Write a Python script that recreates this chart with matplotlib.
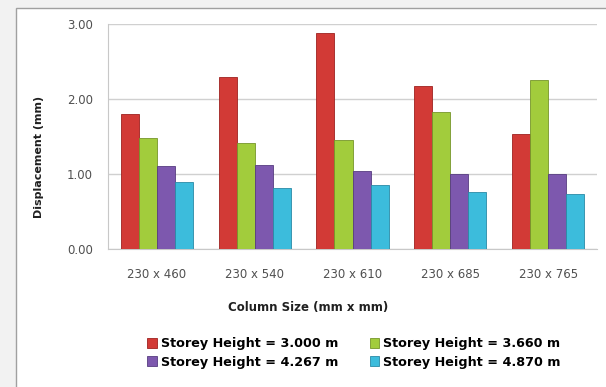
import matplotlib.pyplot as plt
from matplotlib.patches import Rectangle
import numpy as np

sizes = ['230 x 460', '230 x 540', '230 x 610', '230 x 685', '230 x 765']
h_3000 = [1.80, 2.30, 2.88, 2.17, 1.54]
h_3660 = [1.48, 1.41, 1.46, 1.83, 2.25]
h_4267 = [1.11, 1.12, 1.04, 1.00, 1.00]
h_4870 = [0.90, 0.81, 0.85, 0.76, 0.73]
labels = ['Storey Height = 3.000 m', 'Storey Height = 3.660 m',
          'Storey Height = 4.267 m', 'Storey Height = 4.870 m']

colors = ['#d23a36', '#a2cc3c', '#7d58ae', '#3cbcdc']
edges = ['#9e2220', '#76962a', '#573c80', '#2a8aa6']

plt.rcParams['font.family'] = ['DejaVu Sans']

fig = plt.figure(figsize=(6.06, 3.87), dpi=100)
fig.patch.set_facecolor('#f2f2f2')
# chart frame
frame = Rectangle((16 / 606, -0.05), 0.99, 1 - 8 / 387 + 0.05,
                  transform=fig.transFigure, facecolor='white',
                  edgecolor='#a0a0a0', lw=1.0, zorder=-10)
fig.add_artist(frame)

ax = fig.add_axes([108 / 606, 1 - 249 / 387, (597 - 108) / 606, 225 / 387])
ax.set_zorder(5)
ax.set_facecolor('white')

x = np.arange(len(sizes))
w = 0.185
series = [h_3000, h_3660, h_4267, h_4870]
bars = []
for i, vals in enumerate(series):
    b = ax.bar(x + (i - 1.5) * w, vals, w, color=colors[i], edgecolor=edges[i],
               linewidth=0.6, label=labels[i], zorder=3)
    bars.append(b)

ax.set_xlim(-0.5, len(sizes) - 0.5)
ax.set_ylim(0, 3)
ax.set_yticks([0, 1, 2, 3])
ax.set_yticklabels(['%.2f' % v for v in [0, 1, 2, 3]], fontsize=8.5, color='#505050')
ax.set_xticks(x)
ax.set_xticklabels(sizes, fontsize=8.5, color='#505050')
ax.tick_params(axis='x', length=0, pad=14)
ax.tick_params(axis='y', length=0, pad=11)
ax.grid(axis='y', color='#d0d0d0', lw=1.0, zorder=0)
for s in ['top', 'right']:
    ax.spines[s].set_visible(False)
ax.spines['left'].set_color('#c8c8c8')
ax.spines['bottom'].set_color('#c8c8c8')

fig.text(308 / 606, 1 - 308 / 387, 'Column Size (mm x mm)', ha='center', va='center',
         fontsize=8.5, fontweight='bold', color='#202020')
fig.text(39 / 606, 1 - 157 / 387, 'Displacement (mm)', ha='center', va='center',
         rotation=90, fontsize=8, fontweight='bold', color='#202020')

order = [0, 2, 1, 3]
leg = fig.legend([bars[i] for i in order], [labels[i] for i in order],
                 loc='center', bbox_to_anchor=(354 / 606, 1 - 353 / 387), ncol=2,
                 frameon=False, prop={'weight': 'bold', 'size': 9.2},
                 handlelength=0.75, handleheight=0.75, handletextpad=0.3,
                 columnspacing=2.5, labelspacing=0.4)
leg.set_zorder(6)

fig.savefig('out.png', dpi=100, facecolor=fig.get_facecolor())
